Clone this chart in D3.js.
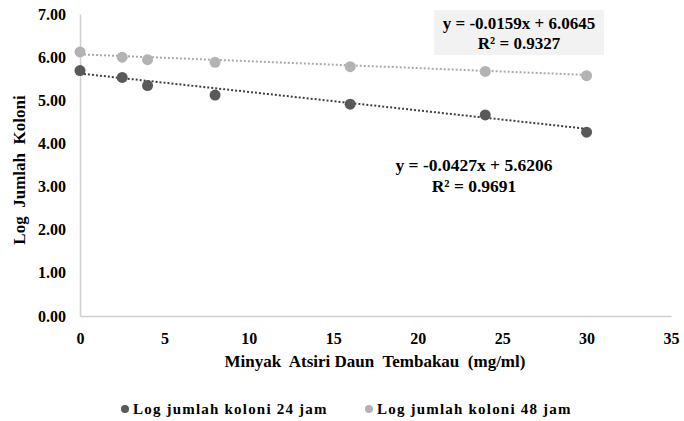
<!DOCTYPE html>
<html><head><meta charset="utf-8">
<script src="https://cdn.jsdelivr.net/npm/d3@7"></script>
<style>
body{margin:0;background:#fff;}
</style></head>
<body><svg id="c" width="684" height="421"></svg>
<script>
const concentrations = [0, 2.5, 4, 8, 16, 24, 30];
const log24 = [5.69, 5.53, 5.34, 5.12, 4.91, 4.66, 4.26];
const log48 = [6.12, 6.00, 5.94, 5.88, 5.78, 5.67, 5.57];
const seriesNames = ["Log jumlah koloni 24 jam", "Log jumlah koloni 48 jam"];
const trend24 = {slope: -0.0427, intercept: 5.6206, r2: "0.9691", eq: "y = -0.0427x + 5.6206"};
const trend48 = {slope: -0.0159, intercept: 6.0645, r2: "0.9327", eq: "y = -0.0159x + 6.0645"};
const xTicks = [0, 5, 10, 15, 20, 25, 30, 35];
const yTicks = [0, 1, 2, 3, 4, 5, 6, 7];

const FONT = "'Times New Roman', Tinos, 'Liberation Serif', 'DejaVu Serif', serif";
const svg = d3.select("#c");
const x = d3.scaleLinear().domain([0, 35]).range([80, 671]);
const y = d3.scaleLinear().domain([0, 7]).range([316, 14]);
const axisCol = "#d0d0d0";

const xa = svg.append("g").attr("transform", "translate(0,316)")
  .call(d3.axisBottom(x).tickValues(xTicks).tickSize(0).tickPadding(14).tickFormat(d3.format("d")));
const ya = svg.append("g").attr("transform", "translate(80,0)")
  .call(d3.axisLeft(y).tickValues(yTicks).tickSize(0).tickPadding(14).tickFormat(d3.format(".2f")));
[xa, ya].forEach(a => {
  a.attr("font-family", FONT).attr("font-size", 16).attr("font-weight", "bold");
  a.select(".domain").attr("stroke", axisCol).attr("stroke-width", 1.5);
  a.selectAll("text").attr("fill", "#000");
});
xa.selectAll("text").attr("dy", "0.85em");

const series = [
  {vals: log24, trend: trend24, dot: "#595959", line: "#404040"},
  {vals: log48, trend: trend48, dot: "#b3b3b3", line: "#aaaaaa"}
];

series.forEach(s => {
  const xs = [0, 30];
  svg.append("line")
    .attr("x1", x(xs[0])).attr("y1", y(s.trend.intercept + s.trend.slope * xs[0]))
    .attr("x2", x(xs[1])).attr("y2", y(s.trend.intercept + s.trend.slope * xs[1]))
    .attr("stroke", s.line).attr("stroke-width", 2).attr("stroke-dasharray", "2,2");
});
series.forEach(s => {
  svg.append("g").selectAll("circle").data(concentrations).join("circle")
    .attr("cx", d => x(d)).attr("cy", (d, i) => y(s.vals[i])).attr("r", 5.5)
    .attr("fill", s.dot);
});

function txt(xp, yp, t, size, anchor) {
  return svg.append("text").attr("x", xp).attr("y", yp).attr("text-anchor", anchor || "middle")
    .attr("font-family", FONT).attr("font-weight", "bold").attr("font-size", size)
    .attr("fill", "#000").attr("xml:space", "preserve").text(t);
}

svg.append("rect").attr("x", 434).attr("y", 10).attr("width", 170).attr("height", 45).attr("fill", "#f2f2f2");
txt(519, 29, trend48.eq, 17);
txt(519, 49, "R² = " + trend48.r2, 17);
txt(474, 171, trend24.eq, 17.5);
txt(474, 192, "R² = " + trend24.r2, 17.5);

txt(375, 367, "Minyak  Atsiri Daun  Tembakau  (mg/ml)", 17);
txt(0, 0, "Log  Jumlah  Koloni", 17).attr("transform", "translate(25,170) rotate(-90)");

const leg = [{x: 125, c: "#595959", t: seriesNames[0]}, {x: 369, c: "#b3b3b3", t: seriesNames[1]}];
leg.forEach(l => {
  svg.append("circle").attr("cx", l.x).attr("cy", 409).attr("r", 4).attr("fill", l.c);
  txt(l.x + 8, 414, l.t, 15, "start").attr("letter-spacing", "1.2px");
});
</script></body></html>
